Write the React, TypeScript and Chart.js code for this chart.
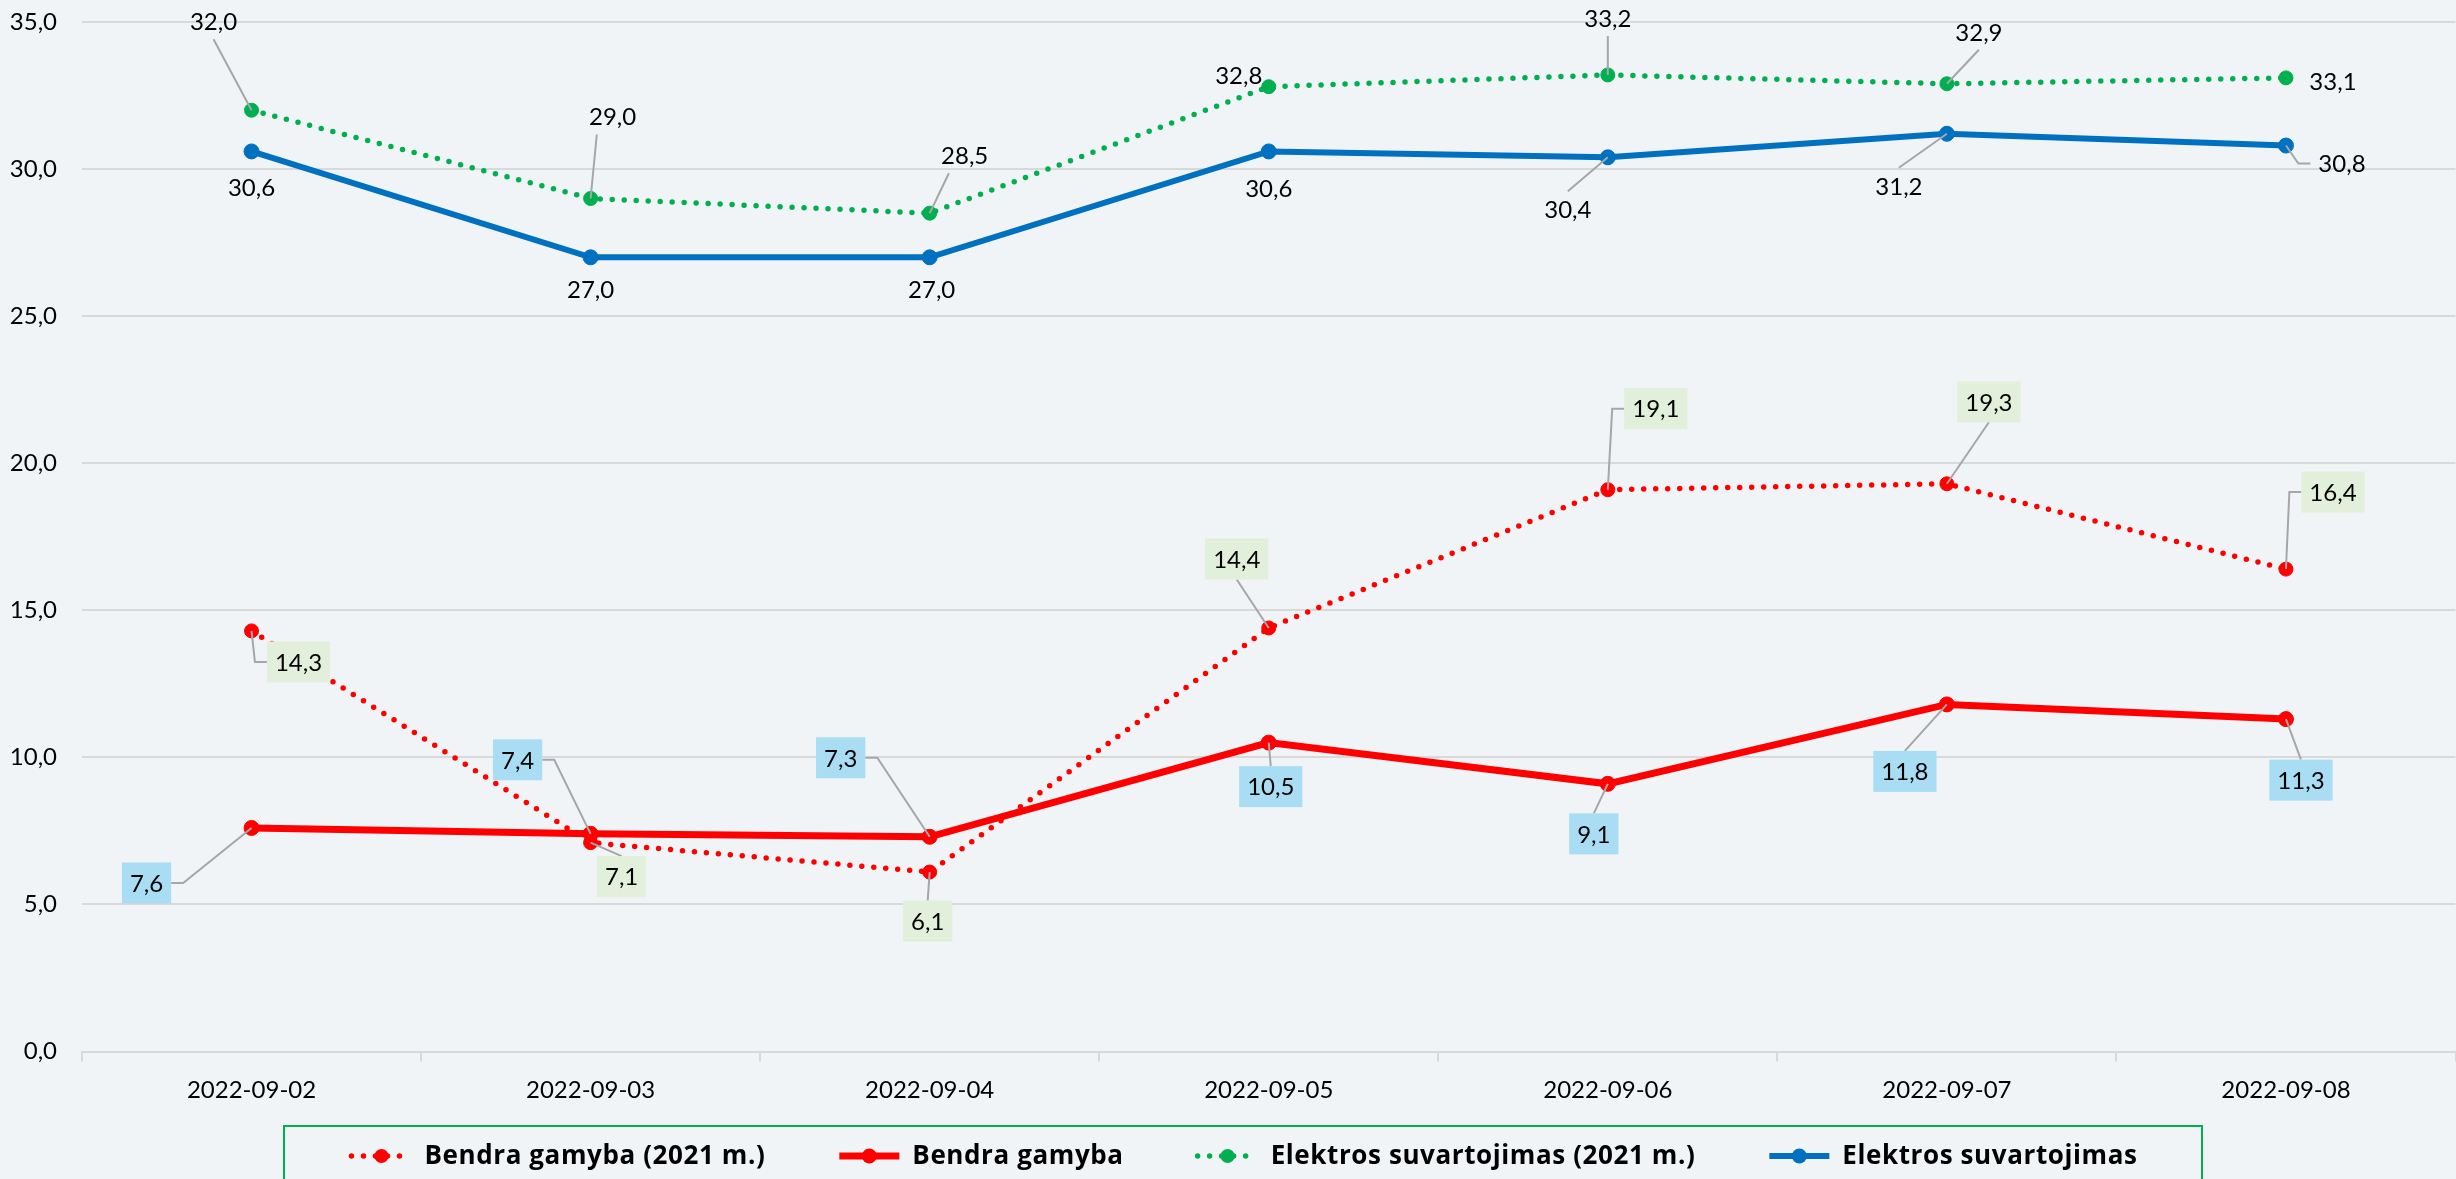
import { useEffect, useRef } from 'react';
import { Chart, registerables } from 'chart.js';

Chart.register(...registerables);

// ---------- data ----------
const categories = ['2022-09-02', '2022-09-03', '2022-09-04', '2022-09-05', '2022-09-06', '2022-09-07', '2022-09-08'];
const seriesNames = ['Bendra gamyba (2021 m.)', 'Bendra gamyba', 'Elektros suvartojimas (2021 m.)', 'Elektros suvartojimas'];
const gamyba2021 = [14.3, 7.1, 6.1, 14.4, 19.1, 19.3, 16.4];
const gamyba = [7.6, 7.4, 7.3, 10.5, 9.1, 11.8, 11.3];
const suvartojimas2021 = [32.0, 29.0, 28.5, 32.8, 33.2, 32.9, 33.1];
const suvartojimas = [30.6, 27.0, 27.0, 30.6, 30.4, 31.2, 30.8];
const yMin = 0;
const yMax = 35;
const yStep = 5;

// ---------- style ----------
const FONT = 'Lato, "Open Sans", sans-serif';
const LEGEND_FONT = '"Open Sans", Lato, sans-serif';
const BG = '#F0F4F7';
const GRID = '#D9D9D9';
const RED = '#FF0000';
const GREEN = '#00B050';
const BLUE = '#0070C0';
const LEADER = '#A6A6A6';
const CANVAS_W = 2464;
const CANVAS_H = 1179;

// label placement per dataset: [dx, dy, leader]
type Lead = '' | 't' | 'b' | 'l' | 'r' | 'bl';
const placeGamyba2021: [number, number, Lead][] = [
  [47, 31, 'l'], [31, 34, 't'], [-2, 49, 't'], [-32, -69, 'b'], [48, -81, 'l'], [42, -82, 'b'], [47, -77, 'l'],
];
const placeGamyba: [number, number, Lead][] = [
  [-105, 55, 'r'], [-73, -74, 'r'], [-89, -79, 'r'], [2, 44, 't'], [-14, 50, 't'], [-42, 67, 't'], [15, 61, 't'],
];
const placeSuv2021: [number, number, Lead][] = [
  [-38, -89, 'b'], [22, -82, 'bl'], [35, -58, 'bl'], [-30, -11, ''], [0, -57, 'b'], [32, -52, 'b'], [47, 3, ''],
];
const placeSuv: [number, number, Lead][] = [
  [0, 36, ''], [0, 32, ''], [2, 32, ''], [0, 37, ''], [-40, 52, 't'], [-48, 52, 't'], [56, 18, 'l'],
];
const placements = [placeGamyba2021, placeGamyba, placeSuv2021, placeSuv];
const labelBgs = ['#E2EFDA', '#A9DDF3', '', ''];

const fmt = (v: number) => v.toFixed(1).replace('.', ',');

const bgPlugin = {
  id: 'bgFill',
  beforeDraw(chart: any) {
    const ctx = chart.ctx;
    ctx.save();
    ctx.fillStyle = BG;
    ctx.fillRect(0, 0, chart.width, chart.height);
    ctx.restore();
  },
};

const labelPlugin = {
  id: 'excelLabels',
  afterDatasetsDraw(chart: any) {
    const ctx = chart.ctx;
    ctx.save();
    ctx.font = `24px ${FONT}`;
    ctx.textAlign = 'center';
    ctx.textBaseline = 'middle';
    chart.data.datasets.forEach((ds: any, di: number) => {
      const meta = chart.getDatasetMeta(di);
      const place = placements[di];
      const bg = labelBgs[di];
      meta.data.forEach((pt: any, i: number) => {
        const v = ds.data[i] as number;
        const text = fmt(v);
        const [dx, dy, lead] = place[i];
        const cx = pt.x + dx;
        const cy = pt.y + dy;
        const tw = ctx.measureText(text).width;
        const w = tw + 16;
        const h = bg ? 41 : 36;
        const L = cx - w / 2, R = cx + w / 2, T = cy - h / 2, B = cy + h / 2;
        if (lead) {
          ctx.strokeStyle = LEADER;
          ctx.lineWidth = 2;
          ctx.beginPath();
          if (lead === 'l') {
            ctx.moveTo(L, cy); ctx.lineTo(L - 12, cy); ctx.lineTo(pt.x, pt.y);
          } else if (lead === 'r') {
            ctx.moveTo(R, cy); ctx.lineTo(R + 12, cy); ctx.lineTo(pt.x, pt.y);
          } else if (lead === 't') {
            ctx.moveTo(cx, T); ctx.lineTo(pt.x, pt.y);
          } else if (lead === 'b') {
            ctx.moveTo(cx, B); ctx.lineTo(pt.x, pt.y);
          } else if (lead === 'bl') {
            ctx.moveTo(L + w * 0.25, B); ctx.lineTo(pt.x, pt.y);
          }
          ctx.stroke();
        }
        if (bg) {
          ctx.fillStyle = bg;
          ctx.fillRect(L, T, w, h);
        }
        ctx.fillStyle = '#000000';
        ctx.fillText(text, cx, cy + 1);
      });
    });
    ctx.restore();
  },
};

const legendPlugin = {
  id: 'excelLegend',
  afterDraw(chart: any) {
    const ctx = chart.ctx;
    const boxL = 284, boxR = 2202, boxT = 1126;
    ctx.save();
    ctx.strokeStyle = GREEN;
    ctx.lineWidth = 2;
    ctx.strokeRect(boxL, boxT, boxR - boxL, CANVAS_H - boxT + 20);
    ctx.font = `bold 26px ${LEGEND_FONT}`;
    try { (ctx as any).letterSpacing = '0.6px'; } catch (e) { /* ignore */ }
    ctx.textBaseline = 'middle';
    ctx.textAlign = 'left';
    const markerW = 66, gapText = 10, gapItem = 71;
    const datasets = chart.data.datasets;
    const widths = datasets.map((d: any) => ctx.measureText(d.label).width);
    const total = widths.reduce((a: number, b: number) => a + b, 0) + datasets.length * (markerW + gapText) + (datasets.length - 1) * gapItem;
    let x = (boxL + boxR) / 2 - total / 2;
    const y = 1156;
    datasets.forEach((d: any, i: number) => {
      ctx.save();
      ctx.strokeStyle = d.borderColor;
      ctx.lineWidth = d.borderWidth;
      ctx.lineCap = d.borderDash && d.borderDash.length ? 'round' : 'butt';
      ctx.setLineDash(d.borderDash || []);
      ctx.beginPath();
      ctx.moveTo(x + 3, y);
      ctx.lineTo(x + markerW - 3, y);
      ctx.stroke();
      ctx.setLineDash([]);
      ctx.fillStyle = d.pointBackgroundColor;
      ctx.beginPath();
      ctx.arc(x + markerW / 2, y, d.pointRadius, 0, Math.PI * 2);
      ctx.fill();
      ctx.restore();
      ctx.fillStyle = '#000000';
      ctx.fillText(d.label, x + markerW + gapText, y + 1);
      x += markerW + gapText + widths[i] + gapItem;
    });
    ctx.restore();
  },
};

export default function App() {
  const ref = useRef<HTMLCanvasElement | null>(null);

  useEffect(() => {
    document.body.style.margin = '0';
    document.body.style.overflow = 'hidden';
    document.body.style.background = BG;
    let chart: Chart | null = null;
    let cancelled = false;
    const make = () => {
      if (cancelled || !ref.current) return;
      chart = new Chart(ref.current, {
        type: 'line',
        data: {
          labels: categories,
          datasets: [
            {
              label: seriesNames[0], data: gamyba2021, borderColor: RED, backgroundColor: RED,
              borderWidth: 5.5, borderDash: [0, 12], borderCapStyle: 'round',
              pointRadius: 7, pointBackgroundColor: RED, pointBorderColor: RED, pointBorderWidth: 1, tension: 0,
            },
            {
              label: seriesNames[1], data: gamyba, borderColor: RED, backgroundColor: RED,
              borderWidth: 7, pointRadius: 7.5, pointBackgroundColor: RED, pointBorderColor: RED, pointBorderWidth: 1, tension: 0,
            },
            {
              label: seriesNames[2], data: suvartojimas2021, borderColor: GREEN, backgroundColor: GREEN,
              borderWidth: 5.5, borderDash: [0, 12], borderCapStyle: 'round',
              pointRadius: 7, pointBackgroundColor: GREEN, pointBorderColor: GREEN, pointBorderWidth: 1, tension: 0,
            },
            {
              label: seriesNames[3], data: suvartojimas, borderColor: BLUE, backgroundColor: BLUE,
              borderWidth: 6, pointRadius: 7.5, pointBackgroundColor: BLUE, pointBorderColor: BLUE, pointBorderWidth: 1, tension: 0,
            },
          ] as any,
        },
        options: {
          animation: false,
          responsive: false,
          maintainAspectRatio: false,
          devicePixelRatio: 1,
          layout: { padding: { top: 22, right: 1, bottom: 0, left: 0 } },
          plugins: { legend: { display: false }, tooltip: { enabled: false } },
          scales: {
            x: {
              type: 'category',
              offset: true,
              grid: { offset: true, drawOnChartArea: false, drawTicks: true, tickLength: 10, color: GRID, lineWidth: 2 },
              border: { display: true, color: GRID, width: 2 },
              ticks: { color: '#000000', font: { family: FONT, size: 24 }, padding: 14, maxRotation: 0, autoSkip: false },
              afterFit: (s: any) => { s.height = 127.5; s.paddingLeft = 0; s.paddingRight = 0; },
            },
            y: {
              min: yMin, max: yMax,
              grid: { color: GRID, lineWidth: 2, drawTicks: false },
              border: { display: false },
              ticks: {
                stepSize: yStep, color: '#000000', font: { family: FONT, size: 24 }, padding: 25,
                callback: (v: any) => fmt(Number(v)),
              },
              afterFit: (s: any) => { s.width = 82; s.paddingTop = 0; s.paddingBottom = 0; },
            },
          },
        } as any,
        plugins: [bgPlugin, labelPlugin, legendPlugin],
      });
    };
    const fonts: any = (document as any).fonts;
    if (fonts && fonts.load) {
      Promise.all([fonts.load(`24px Lato`), fonts.load(`bold 26px "Open Sans"`)]).then(make, make);
    } else make();
    return () => {
      cancelled = true;
      if (chart) chart.destroy();
    };
  }, []);

  return (
    <div style={{ position: 'fixed', left: 0, top: 0, width: CANVAS_W, height: CANVAS_H, background: BG }}>
      <canvas ref={ref} width={CANVAS_W} height={CANVAS_H} style={{ width: CANVAS_W, height: CANVAS_H, display: 'block' }} />
    </div>
  );
}
